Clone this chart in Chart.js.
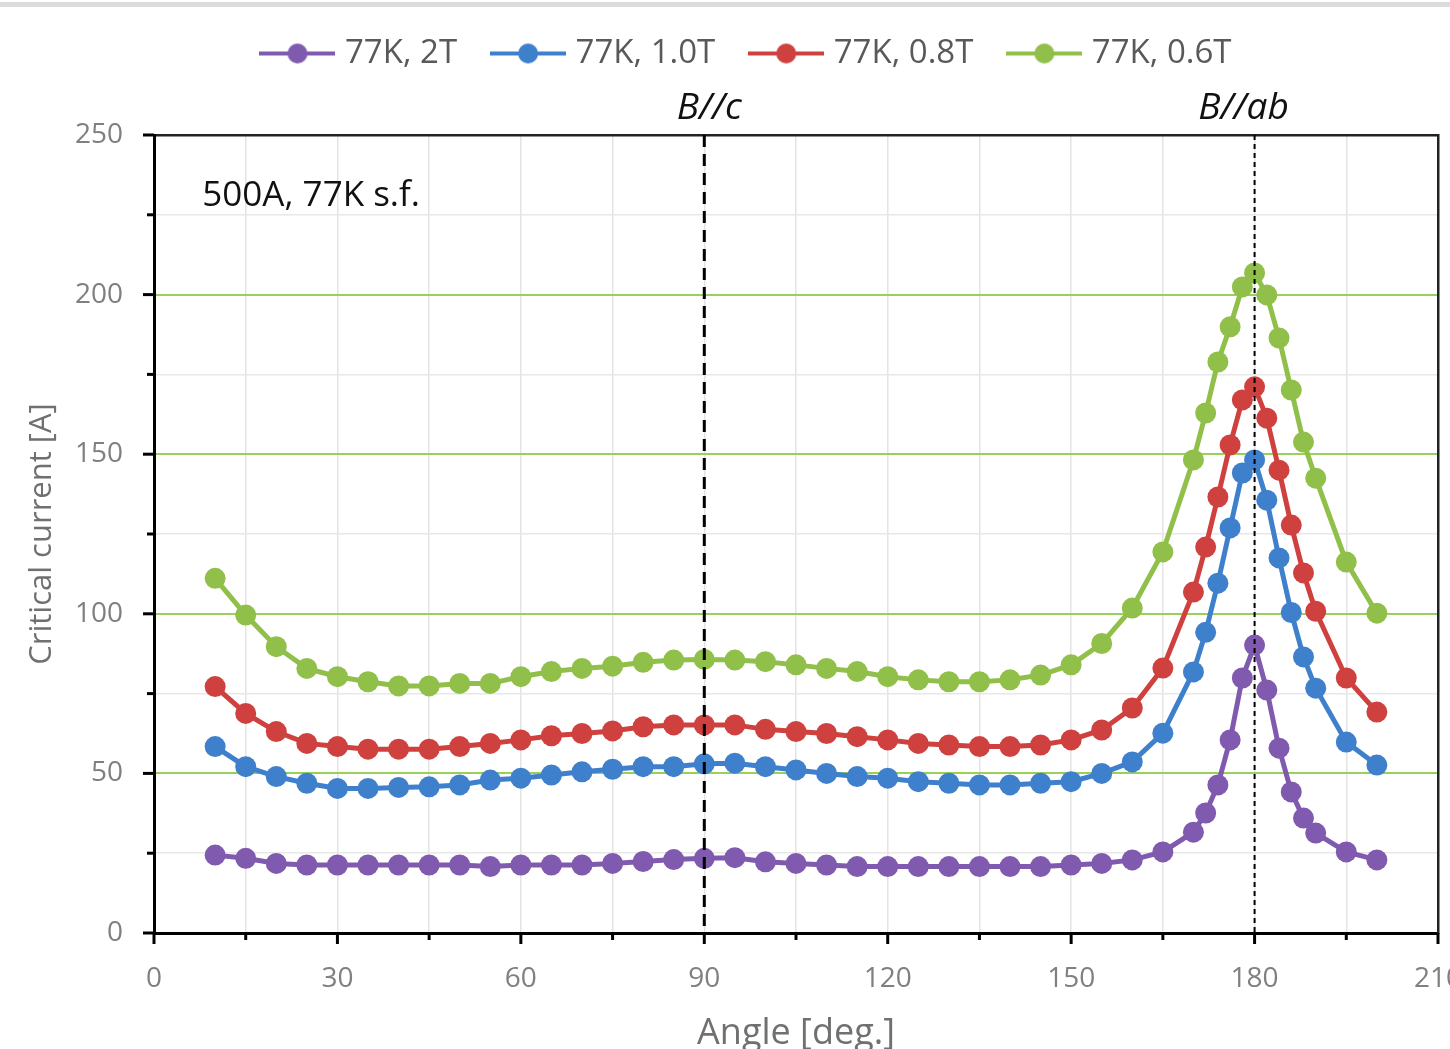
<!DOCTYPE html>
<html>
<head>
<meta charset="utf-8">
<script src="https://cdn.jsdelivr.net/npm/chart.js@4.4.1/dist/chart.umd.min.js"></script>
<style>
  html, body { margin: 0; padding: 0; background: #fff; overflow: hidden; }
  #topbar { position: absolute; left: 0; top: 2px; width: 1450px; height: 5px; background: #dcdcdc; }
  #c { position: absolute; left: 0; top: 0; }
</style>
</head>
<body>
<canvas id="c" width="1498" height="1080"></canvas>
<div id="topbar"></div>
<script>
// Angular dependence of critical current, 500A tape, 77K
const angles = [10, 15, 20, 25, 30, 35, 40, 45, 50, 55, 60, 65, 70, 75, 80, 85,
  90, 95, 100, 105, 110, 115, 120, 125, 130, 135, 140, 145, 150, 155, 160, 165,
  170, 172, 174, 176, 178, 180, 182, 184, 186, 188, 190, 195, 200];

const ic2T = [24.4, 23.4, 21.8, 21.3, 21.3, 21.3, 21.3, 21.3, 21.3, 20.8, 21.3, 21.3, 21.3, 21.8, 22.4, 23.0,
  23.4, 23.6, 22.3, 21.8, 21.3, 20.8, 20.8, 20.8, 20.8, 20.8, 20.8, 20.8, 21.3, 21.8, 22.9, 25.4,
  31.6, 37.6, 46.4, 60.5, 79.9, 90.2, 76.1, 57.9, 44.2, 36.0, 31.3, 25.4, 22.9];
const ic10T = [58.4, 52.1, 49.0, 46.9, 45.3, 45.3, 45.6, 45.8, 46.4, 47.9, 48.5, 49.5, 50.5, 51.3, 52.1, 52.1,
  53.0, 53.2, 52.1, 51.1, 50.0, 49.0, 48.5, 47.4, 46.9, 46.4, 46.4, 46.9, 47.4, 50.0, 53.6, 62.6,
  81.8, 94.2, 109.6, 126.9, 144.1, 148.2, 135.6, 117.5, 100.4, 86.5, 76.7, 59.8, 52.6];
const ic08T = [77.2, 68.8, 63.1, 59.4, 58.4, 57.6, 57.6, 57.6, 58.4, 59.4, 60.5, 61.8, 62.5, 63.3, 64.6, 65.2,
  65.2, 65.2, 63.8, 63.1, 62.5, 61.5, 60.5, 59.4, 58.9, 58.4, 58.4, 58.9, 60.5, 63.6, 70.5, 83.0,
  106.8, 120.9, 136.6, 152.9, 167.0, 171.1, 161.3, 145.0, 127.8, 112.8, 100.8, 79.9, 69.2];
const ic06T = [111.1, 99.6, 89.7, 82.9, 80.3, 78.7, 77.4, 77.4, 78.2, 78.2, 80.3, 81.9, 82.9, 83.6, 84.8, 85.5,
  85.7, 85.5, 85.0, 84.0, 82.9, 81.9, 80.3, 79.3, 78.7, 78.7, 79.3, 80.8, 84.0, 90.7, 101.8, 119.4,
  148.2, 162.9, 178.9, 189.9, 202.4, 206.8, 199.9, 186.4, 170.1, 153.8, 142.5, 116.2, 100.2];

const seriesNames = ['77K, 2T', '77K, 1.0T', '77K, 0.8T', '77K, 0.6T'];
const seriesValues = [ic2T, ic10T, ic08T, ic06T];
const seriesColors = ['#7f5aae', '#3f80cc', '#cf413e', '#90bf4a'];

// B//c and B//ab reference angles
const refAngles = [90, 180];
const refLabels = ['B//c', 'B//ab'];
const noteText = '500A, 77K s.f.';

const FONT = '"Open Sans", "Noto Sans", sans-serif';

// legend icon: short line with a dot in the middle
function legendIcon(color) {
  const cv = document.createElement('canvas');
  cv.width = 76; cv.height = 22;
  const g = cv.getContext('2d');
  g.strokeStyle = color; g.lineWidth = 4;
  g.beginPath(); g.moveTo(0, 11); g.lineTo(76, 11); g.stroke();
  g.fillStyle = color;
  g.beginPath(); g.arc(38, 11, 10, 0, Math.PI * 2); g.fill();
  return cv;
}
const icons = seriesColors.map(legendIcon);

const decor = {
  id: 'decor',
  afterDatasetsDraw(chart) {
    const { ctx, chartArea: a, scales: { x } } = chart;
    ctx.save();
    // vertical reference lines
    const widths = [3, 2];
    const dashes = [[12, 7], [5, 4]];
    refAngles.forEach((ang, i) => {
      const px = x.getPixelForValue(ang);
      ctx.strokeStyle = '#000';
      ctx.lineWidth = widths[i];
      ctx.setLineDash(dashes[i]);
      ctx.beginPath(); ctx.moveTo(px, a.top); ctx.lineTo(px, a.bottom); ctx.stroke();
    });
    ctx.setLineDash([]);
    ctx.restore();
  },
  afterDraw(chart) {
    const { ctx, chartArea: a, scales: { x, y } } = chart;
    ctx.save();
    // tick marks (major + minor)
    ctx.strokeStyle = '#000';
    ctx.lineWidth = 3;
    for (let v = 0; v <= 210; v += 15) {
      const px = x.getPixelForValue(v);
      const len = v % 30 === 0 ? 11 : 7;
      ctx.beginPath(); ctx.moveTo(px, a.bottom); ctx.lineTo(px, a.bottom + len); ctx.stroke();
    }
    for (let v = 0; v <= 250; v += 25) {
      const py = y.getPixelForValue(v);
      const len = v % 50 === 0 ? 11 : 7;
      ctx.beginPath(); ctx.moveTo(a.left - len, py); ctx.lineTo(a.left, py); ctx.stroke();
    }
    // labels above the reference lines
    ctx.fillStyle = '#111';
    ctx.font = 'italic 37px ' + FONT;
    ctx.textAlign = 'center';
    ctx.textBaseline = 'middle';
    const offs = [5, -11];
    refAngles.forEach((ang, i) => {
      ctx.fillText(refLabels[i], x.getPixelForValue(ang) + offs[i], a.top - 27);
    });
    // note in the upper-left corner
    ctx.font = '35px ' + FONT;
    ctx.textAlign = 'left';
    ctx.fillText(noteText, x.getPixelForValue(7.9), y.getPixelForValue(231));
    ctx.restore();
  }
};

new Chart(document.getElementById('c'), {
  type: 'line',
  data: {
    datasets: seriesNames.map((name, i) => ({
      label: name,
      data: angles.map((a, j) => ({ x: a, y: seriesValues[i][j] })),
      borderColor: seriesColors[i],
      backgroundColor: seriesColors[i],
      borderWidth: 5,
      pointRadius: 10.5,
      pointBorderWidth: 0,
      tension: 0,
    })),
  },
  options: {
    responsive: false,
    animation: false,
    events: [],
    layout: { padding: { top: -3, left: 0, right: 0, bottom: 0 } },
    plugins: {
      tooltip: { enabled: false },
      legend: {
        position: 'top',
        labels: {
          usePointStyle: true,
          pointStyleWidth: 62,
          padding: 40,
          color: '#595959',
          font: { family: FONT, size: 33 },
          generateLabels(chart) {
            const items = Chart.defaults.plugins.legend.labels.generateLabels(chart);
            items.forEach((it, i) => { it.pointStyle = icons[i]; });
            return items;
          },
        },
      },
    },
    scales: {
      x: {
        type: 'linear', position: 'bottom', min: 0, max: 210,
        ticks: {
          stepSize: 15, autoSkip: false, padding: 29,
          color: '#808080', font: { family: FONT, size: 28 },
          callback: (v) => (v % 30 === 0 ? v : ''),
        },
        grid: {
          drawTicks: false,
          color: (c) => (c.tick && (c.tick.value === 0 || c.tick.value === 210) ? 'rgba(0,0,0,0)' : '#e4e4e4'),
          lineWidth: 1.5,
        },
        border: { color: '#000', width: 3 },
        title: {
          display: true, text: 'Angle [deg.]', color: '#707070',
          font: { family: FONT, size: 36 }, padding: { top: 0, bottom: 25 },
        },
        afterFit(s) { s.height = 147; },
      },
      x2: {
        type: 'linear', position: 'top', min: 0, max: 210,
        ticks: { display: false },
        grid: { display: false },
        border: { color: '#222', width: 2.5 },
        afterFit(s) { s.height = 55; },
      },
      y: {
        type: 'linear', position: 'left', min: 0, max: 250,
        ticks: {
          stepSize: 25, autoSkip: false, padding: 31,
          color: '#808080', font: { family: FONT, size: 28 },
          callback: (v) => (v % 50 === 0 ? v : ''),
        },
        grid: {
          drawTicks: false,
          color: (c) => {
            const v = c.tick ? c.tick.value : -1;
            if (v === 0 || v === 250) return 'rgba(0,0,0,0)';
            return v % 50 === 0 ? '#98d05a' : '#e8e8e8';
          },
          lineWidth: (c) => (c.tick && c.tick.value % 50 === 0 ? 2 : 1.5),
        },
        border: { color: '#000', width: 3 },
        title: {
          display: true, text: 'Critical current [A]', color: '#707070',
          font: { family: FONT, size: 31 }, padding: { top: 24, bottom: 0 },
        },
        afterFit(s) { s.width = 154; },
      },
      y2: {
        type: 'linear', position: 'right', min: 0, max: 250,
        ticks: { display: false },
        grid: { display: false },
        border: { color: '#222', width: 2.5 },
        afterFit(s) { s.width = 60; },
      },
    },
  },
  plugins: [decor],
});
</script>
</body>
</html>
